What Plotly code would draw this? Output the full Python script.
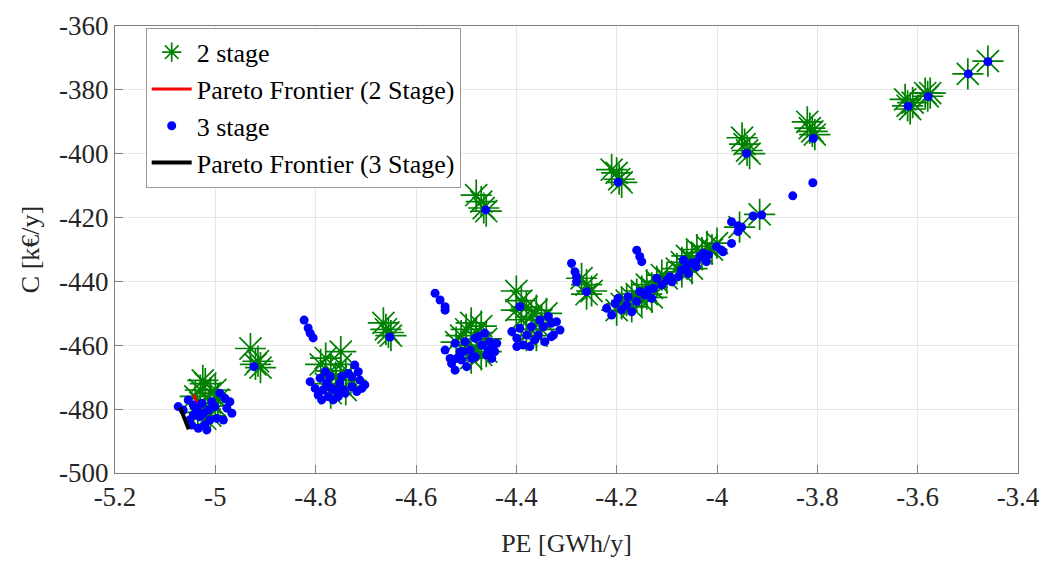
import plotly.graph_objects as go

# ---------------- data ----------------
# 2 stage solutions (PE [GWh/y], C [k€/y])
stage2_pe = [
    -5.04, -5.03, -5.025, -5.02, -5.01, -5.00, -5.03, -5.02, -5.01, -5.00, -5.02, -5.01, -5.035, -4.995,
    -4.93, -4.915, -4.91, -4.92,
    -4.79, -4.78, -4.77, -4.76, -4.75, -4.75, -4.74, -4.76, -4.78, -4.74, -4.77, -4.73,
    -4.665, -4.66, -4.655, -4.65,
    -4.51, -4.50, -4.49, -4.48, -4.47, -4.46, -4.50, -4.48, -4.47, -4.49, -4.46, -4.52,
    -4.40, -4.39, -4.38, -4.36, -4.37, -4.35, -4.34, -4.39, -4.37, -4.36, -4.38, -4.35, -4.40,
    -4.27, -4.26, -4.25, -4.26,
    -4.48, -4.47, -4.465, -4.46,
    -4.21, -4.20, -4.195, -4.19,
    -4.19, -4.18, -4.17, -4.16, -4.15, -4.14, -4.13, -4.12, -4.17, -4.15, -4.13, -4.11, -4.10,
    -4.08, -4.07, -4.06, -4.05, -4.04, -4.03, -4.02, -4.01, -4.00, -4.05, -4.07, -4.20, -4.14,
    -3.955, -3.915,
    -3.95, -3.945, -3.94, -3.935,
    -3.82, -3.815, -3.81, -3.805,
    -3.625, -3.62, -3.615, -3.61,
    -3.585, -3.58, -3.575,
    -3.50, -3.46,
]
stage2_c = [
    -476, -474, -471, -472, -475, -474, -478, -480, -478, -479, -483, -482, -481, -477,
    -461, -465, -467, -466,
    -466, -464, -468, -470, -462, -466, -469, -473, -472, -474, -475, -471,
    -453, -455, -456, -457,
    -457, -455, -453, -456, -454, -458, -460, -461, -463, -464, -462, -459,
    -443, -446, -448, -449, -451, -452, -450, -452, -455, -457, -457, -455, -449,
    -439, -441, -443, -444,
    -413, -415, -417, -418,
    -405, -406, -408, -409,
    -447, -446, -445, -444, -443, -441, -442, -440, -448, -446, -445, -438, -439,
    -436, -434, -432, -433, -430, -431, -429, -430, -428, -436, -437, -449, -444,
    -423, -419,
    -395, -397, -399, -400,
    -390, -392, -393, -394,
    -383, -385, -386, -384,
    -381, -382, -381,
    -375, -371,
]

# Pareto frontier, 2 stage
pareto2_pe = [-5.043, -5.038, -5.033]
pareto2_c = [-475.5, -477.5, -479.5]

# 3 stage solutions
stage3_pe = [
    -5.074, -5.064, -5.054, -5.044, -5.037, -5.044, -5.031, -5.024, -5.014, -5.011, -5.021, -5.034, -5.047,
    -4.991, -4.981, -4.971, -4.977, -4.967, -4.984, -4.997, -5.001, -5.007, -5.027, -5.017, -5.051,
    -4.923,
    -4.823, -4.815, -4.811, -4.805,
    -4.811, -4.801, -4.791, -4.795, -4.788, -4.781, -4.778, -4.771, -4.768, -4.775, -4.765, -4.758,
    -4.752, -4.748, -4.745, -4.741, -4.735, -4.728, -4.722, -4.715, -4.712, -4.708, -4.702, -4.718,
    -4.728, -4.755, -4.785,
    -4.652,
    -4.562, -4.552, -4.542, -4.542,
    -4.542, -4.532, -4.529, -4.522, -4.522, -4.512, -4.509, -4.502, -4.499, -4.492, -4.489, -4.482,
    -4.482, -4.476, -4.469, -4.463, -4.459, -4.456, -4.453, -4.446, -4.443, -4.449, -4.439, -4.506,
    -4.519,
    -4.393, -4.409, -4.399, -4.393, -4.386, -4.379, -4.370, -4.363, -4.356, -4.353, -4.346, -4.336,
    -4.330, -4.326, -4.320, -4.313, -4.330, -4.373, -4.399, -4.343,
    -4.290, -4.283, -4.280, -4.280, -4.260,
    -4.461, -4.197,
    -4.220, -4.210, -4.203, -4.197, -4.190, -4.180, -4.177, -4.170, -4.160, -4.154, -4.144, -4.137,
    -4.130, -4.127, -4.120, -4.110, -4.100, -4.090, -4.094, -4.077, -4.071, -4.067, -4.061, -4.057,
    -4.051, -4.041, -4.041, -4.034, -4.027, -4.021, -4.017, -4.001, -3.991, -3.988, -3.971, -3.958,
    -4.160, -4.154, -4.150,
    -3.971, -3.958, -3.951, -3.928, -3.911,
    -3.941, -3.849, -3.809, -3.808,
    -3.619, -3.579, -3.499, -3.460,
]
stage3_c = [
    -479.2, -480.3, -477.1, -478.7, -480.3, -481.8, -482.4, -481.3, -480.3, -483.4, -485.0, -486.0, -485.0,
    -475.0, -476.6, -477.7, -479.7, -481.3, -483.4, -482.9, -479.2, -477.7, -478.2, -486.5, -483.4,
    -466.7,
    -452.1, -454.6, -456.2, -457.7,
    -471.4, -473.5, -470.3, -475.6, -477.1, -468.3, -471.9, -469.8, -473.5, -476.1, -477.1, -474.5,
    -471.9, -469.8, -474.0, -475.0, -468.8, -469.8, -466.2, -468.3, -470.9, -473.5, -472.4, -474.5,
    -473.0, -476.1, -474.0,
    -457.4,
    -443.7, -445.8, -447.9, -449.0,
    -461.5, -464.1, -465.7, -467.8, -459.4, -462.0, -464.6, -458.9, -466.7, -461.5, -464.1, -463.6,
    -457.8, -457.3, -459.9, -456.2, -463.0, -461.5, -458.9, -459.9, -462.0, -464.1, -459.4, -462.0,
    -464.1,
    -447.9, -455.7, -457.8, -454.7, -459.9, -456.8, -454.2, -458.3, -456.8, -452.1, -454.2, -451.0,
    -453.1, -456.8, -452.6, -455.2, -457.3, -460.4, -460.4, -458.9,
    -434.3, -437.0, -438.5, -440.1, -443.2,
    -417.6, -408.9,
    -448.4, -450.5, -446.9, -445.3, -448.9, -447.4, -444.8, -449.5, -446.3, -443.2, -444.3, -442.7,
    -445.3, -442.2, -439.0, -441.1, -439.6, -440.1, -438.5, -438.5, -436.4, -433.3, -435.4, -437.5,
    -434.3, -433.8, -435.4, -432.2, -431.2, -433.8, -431.7, -429.1, -430.2, -430.7, -428.1, -424.4,
    -430.2, -432.2, -433.8,
    -421.3, -422.6, -423.0, -419.5, -419.2,
    -399.9, -413.2, -409.1, -395.2,
    -385.1, -382.1, -375.0, -371.2,
]

# Pareto frontier, 3 stage
pareto3_pe = [-5.070, -5.065, -5.060, -5.056, -5.053]
pareto3_c = [-479.5, -481.5, -483.5, -485.0, -486.3]

# axes
x_ticks = [-5.2, -5.0, -4.8, -4.6, -4.4, -4.2, -4.0, -3.8, -3.6, -3.4]
x_tick_labels = ["-5.2", "-5", "-4.8", "-4.6", "-4.4", "-4.2", "-4", "-3.8", "-3.6", "-3.4"]
y_ticks = [-500, -480, -460, -440, -420, -400, -380, -360]
y_tick_labels = ["-500", "-480", "-460", "-440", "-420", "-400", "-380", "-360"]

# ---------------- figure ----------------
FONT = "Liberation Serif"

fig = go.Figure()
fig.add_trace(go.Scatter(
    x=stage2_pe, y=stage2_c, mode="markers", name="2 stage",
    marker=dict(symbol="asterisk-open", size=26, color="#008000",
                line=dict(color="#008000", width=1.7)),
))
fig.add_trace(go.Scatter(
    x=pareto2_pe, y=pareto2_c, mode="lines", name="Pareto Frontier (2 Stage)",
    line=dict(color="#ff0000", width=3),
))
fig.add_trace(go.Scatter(
    x=stage3_pe, y=stage3_c, mode="markers", name="3 stage",
    marker=dict(symbol="circle", size=9, color="#0000ff", line=dict(width=0)),
))
fig.add_trace(go.Scatter(
    x=pareto3_pe, y=pareto3_c, mode="lines", name="Pareto Frontier (3 Stage)",
    line=dict(color="#000000", width=4),
))

axis_common = dict(
    showgrid=True, gridcolor="#e6e6e6", gridwidth=1,
    showline=True, linecolor="#808080", linewidth=1, mirror=True,
    ticks="inside", ticklen=8, tickcolor="#808080",
    tickfont=dict(family=FONT, size=27, color="#262626"),
    zeroline=False, automargin=False,
)

fig.update_layout(
    width=1050, height=561,
    paper_bgcolor="white", plot_bgcolor="white",
    margin=dict(l=107, r=40, t=18, b=96),
    font=dict(family=FONT, color="#262626"),
    showlegend=True,
    legend=dict(
        x=0.034, y=0.996, xanchor="left", yanchor="top",
        bgcolor="white", bordercolor="#999999", borderwidth=1,
        font=dict(family=FONT, size=26, color="#000000"),
        tracegroupgap=0, itemsizing="trace", itemwidth=40,
    ),
    xaxis=dict(
        range=[-5.2, -3.4], tickvals=x_ticks, ticktext=x_tick_labels,
        title=dict(text="PE [GWh/y]", font=dict(family=FONT, size=26, color="#262626"), standoff=22),
        **axis_common,
    ),
    yaxis=dict(
        range=[-500, -360], tickvals=y_ticks, ticktext=y_tick_labels,
        title=dict(text="C [k€/y]", font=dict(family=FONT, size=26, color="#262626"), standoff=11),
        **axis_common,
    ),
)

fig.write_html("out.html")
